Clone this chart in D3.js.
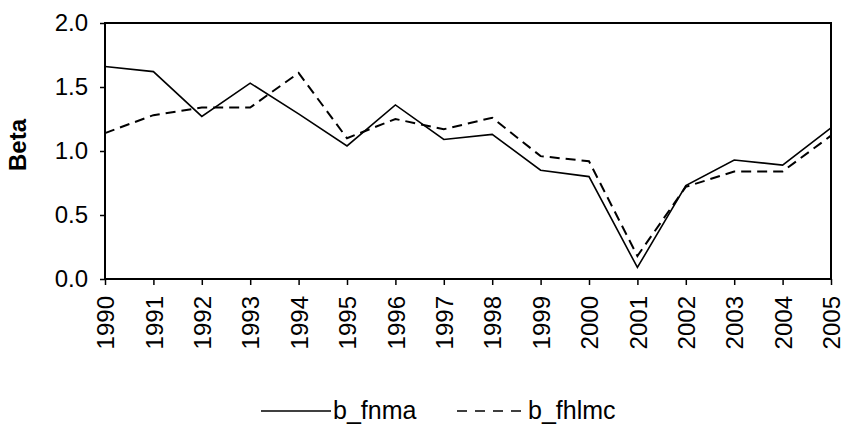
<!DOCTYPE html>
<html>
<head>
	<meta charset="utf-8">
	<title>beta with d3</title>
	<style>
		body { margin: 0; background: #fff; }
		text { font-family: "Liberation Sans", Arial, sans-serif; fill: #000; }
	</style>
</head>
<body>
<div class="chart"></div>
<script src="https://cdn.jsdelivr.net/npm/d3@7"></script>
<script>
	// data
	let years = [1990, 1991, 1992, 1993, 1994, 1995, 1996, 1997, 1998, 1999, 2000, 2001, 2002, 2003, 2004, 2005];
	let fnma = [1.66, 1.62, 1.27, 1.53, 1.29, 1.04, 1.36, 1.09, 1.13, 0.85, 0.80, 0.09, 0.73, 0.93, 0.89, 1.18];
	let fhlmc = [1.14, 1.28, 1.34, 1.34, 1.61, 1.10, 1.25, 1.17, 1.26, 0.96, 0.92, 0.18, 0.72, 0.84, 0.84, 1.12];
	let yTicks = [0, 0.5, 1.0, 1.5, 2.0];
	let seriesNames = ["b_fnma", "b_fhlmc"];

	window.onload = function(){
		showLines();
	}

	function showLines(){
		let width = 841, height = 432;
		let padding = {"top": 23, "right": 10, "bottom": 153, "left": 105};
		let w = width - padding.left - padding.right;
		let h = height - padding.top - padding.bottom;

		let svg = d3.select(".chart").append("svg")
			.attr("width", width)
			.attr("height", height);

		let scaleX = d3.scaleLinear()
			.domain(d3.extent(years))
			.range([0, w]);
		let scaleY = d3.scaleLinear()
			.domain([0, 2])
			.range([h, 0]);

		let g = svg.append("g")
			.attr("transform", "translate(" + padding.left + "," + padding.top + ")");

		// axes
		let axisX = d3.axisBottom(scaleX)
			.tickValues(years)
			.tickFormat(d3.format("d"))
			.tickSizeInner(6)
			.tickSizeOuter(0);
		let gx = g.append("g")
			.attr("transform", "translate(0," + h + ")")
			.call(axisX);
		gx.select(".domain").remove();
		gx.selectAll("line").attr("stroke", "#000").attr("stroke-width", 1.5);
		gx.selectAll("text")
			.attr("transform", "rotate(-90)")
			.attr("x", -17)
			.attr("y", 0)
			.attr("dy", "0.36em")
			.style("text-anchor", "end")
			.style("font-size", "24px")
			.style("font-family", "Liberation Sans, Arial, sans-serif");

		let axisY = d3.axisLeft(scaleY)
			.tickValues(yTicks)
			.tickFormat(d3.format(".1f"))
			.tickSizeInner(5)
			.tickSizeOuter(0)
			.tickPadding(12);
		let gy = g.append("g").call(axisY);
		gy.select(".domain").remove();
		gy.selectAll("line").attr("stroke", "#000").attr("stroke-width", 1.5);
		gy.selectAll("text")
			.style("font-size", "24px")
			.style("font-family", "Liberation Sans, Arial, sans-serif");

		// frame
		g.append("rect")
			.attr("x", 0).attr("y", 0)
			.attr("width", w).attr("height", h)
			.attr("fill", "none")
			.attr("stroke", "#000")
			.attr("stroke-width", 2);

		// lines
		let line = d3.line()
			.x((d, i) => scaleX(years[i]))
			.y(d => scaleY(d));

		g.append("path")
			.datum(fhlmc)
			.attr("d", line)
			.attr("fill", "none")
			.attr("stroke", "#000")
			.attr("stroke-width", 2)
			.attr("stroke-dasharray", "10,6");

		g.append("path")
			.datum(fnma)
			.attr("d", line)
			.attr("fill", "none")
			.attr("stroke", "#000")
			.attr("stroke-width", 1.6);

		// y title
		svg.append("text")
			.attr("transform", "translate(26,145) rotate(-90)")
			.style("text-anchor", "middle")
			.style("font-size", "24px")
			.style("font-weight", "bold")
			.text("Beta");

		// legend
		let legend = svg.append("g");
		legend.append("line")
			.attr("x1", 261).attr("x2", 331)
			.attr("y1", 411).attr("y2", 411)
			.attr("stroke", "#000").attr("stroke-width", 1.6);
		legend.append("text")
			.attr("x", 333).attr("y", 419)
			.style("font-size", "25px")
			.text(seriesNames[0]);
		legend.append("line")
			.attr("x1", 457).attr("x2", 527)
			.attr("y1", 411).attr("y2", 411)
			.attr("stroke", "#000").attr("stroke-width", 1.6)
			.attr("stroke-dasharray", "10,8");
		legend.append("text")
			.attr("x", 528).attr("y", 419)
			.style("font-size", "25px")
			.text(seriesNames[1]);
	}
</script>
</body>
</html>
